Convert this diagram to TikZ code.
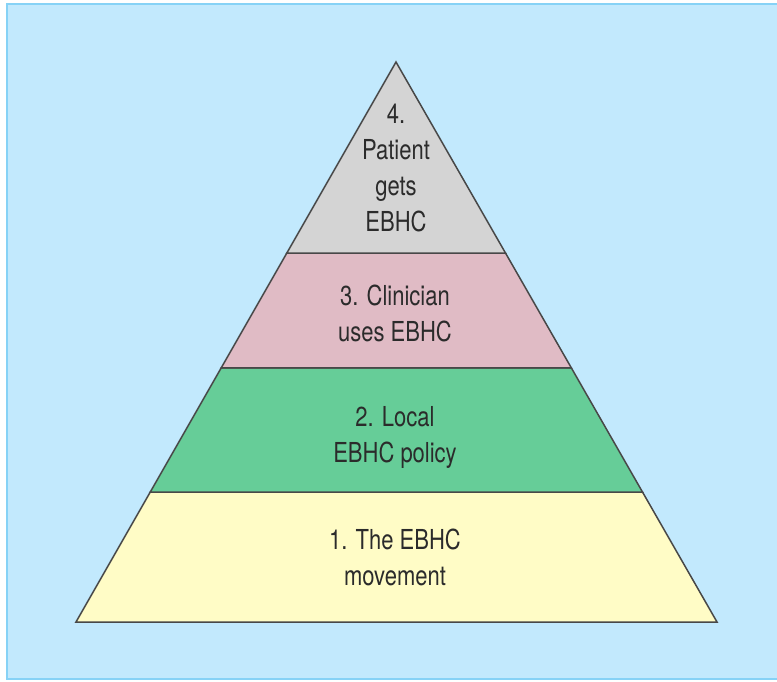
\documentclass[tikz,border=0pt]{standalone}
\usepackage{fontspec}
\setmainfont[FakeStretch=0.80]{TeX Gyre Heros}
\usetikzlibrary{calc}
\definecolor{bgblue}{HTML}{C2E9FD}
\definecolor{frameblue}{HTML}{86D2F6}
\definecolor{edgegray}{HTML}{484848}
\definecolor{textgray}{HTML}{2B2B2B}
\definecolor{tiergray}{HTML}{D4D4D4}
\definecolor{tierpink}{HTML}{E0BBC5}
\definecolor{tiergreen}{HTML}{66CD98}
\definecolor{tieryellow}{HTML}{FFFCC6}
\begin{document}
\begin{tikzpicture}[x=1pt,y=-1pt,
  tier/.style={draw=edgegray, line width=1.5pt, line join=miter},
  tiertext/.style={font=\fontsize{27.5}{36}\selectfont, text=textgray, align=center, inner sep=0pt, anchor=north}]
\useasboundingbox (0,0) rectangle (777,682);
\fill[white] (0,0) rectangle (777,682);
\draw[frameblue, line width=2.2pt, fill=bgblue] (7,4) rectangle (790,679);
\coordinate (apex) at (396,62);
\coordinate (bl) at (76,622);
\coordinate (br) at (717,622);
\coordinate (l1) at ($(apex)!0.3411!(bl)$);
\coordinate (r1) at ($(apex)!0.3411!(br)$);
\coordinate (l2) at ($(apex)!0.5464!(bl)$);
\coordinate (r2) at ($(apex)!0.5464!(br)$);
\coordinate (l3) at ($(apex)!0.7679!(bl)$);
\coordinate (r3) at ($(apex)!0.7679!(br)$);
\draw[tier, fill=tieryellow] (l3) -- (r3) -- (br) -- (bl) -- cycle;
\draw[tier, fill=tiergreen] (l2) -- (r2) -- (r3) -- (l3) -- cycle;
\draw[tier, fill=tierpink] (l1) -- (r1) -- (r2) -- (l2) -- cycle;
\draw[tier, fill=tiergray] (apex) -- (r1) -- (l1) -- cycle;
\node[tiertext] (t4) at (396,104) {4.\\Patient\\gets\\EBHC};
\node[tiertext] (t3) at (395,285) {3. Clinician\\uses EBHC};
\node[tiertext] (t2) at (395,406) {2. Local\\EBHC policy};
\node[tiertext] (t1) at (395,529) {1. The EBHC\\movement};
\end{tikzpicture}
\end{document}
